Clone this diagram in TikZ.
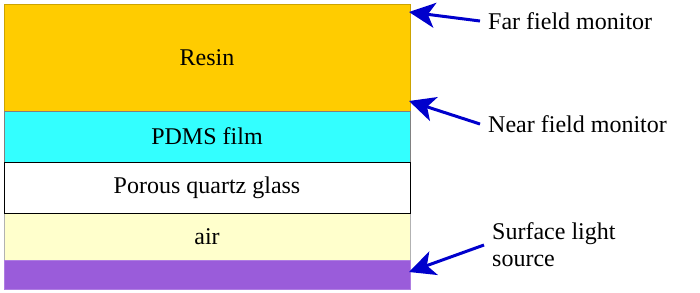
\documentclass[tikz,border=0pt]{standalone}
\usepackage{fontspec}
\setmainfont{Liberation Serif}
\usetikzlibrary{arrows.meta}

\definecolor{resinc}{HTML}{FFCC00}
\definecolor{pdmsc}{HTML}{33FFFF}
\definecolor{airc}{HTML}{FFFFCC}
\definecolor{sourcec}{HTML}{9A5CDA}
\definecolor{arrowc}{HTML}{0000CC}

\begin{document}
\begin{tikzpicture}[x=1pt, y=-1pt, font=\fontsize{24}{27}\selectfont,
    layer/.style={minimum width=406pt, inner sep=0pt, outer sep=0pt, line width=0.8pt},
    pointer/.style={draw=arrowc, line width=3pt, -{Stealth[length=26pt,width=25pt,inset=7pt]}},
    tag/.style={anchor=west, inner xsep=8pt, inner ysep=0pt, align=left}]
    \useasboundingbox (0,0) rectangle (700,292);

    % layers, top to bottom
    \node[layer, draw=resinc!80!black, fill=resinc, minimum height=107pt] (resin) at (207,57.5) {Resin};
    \node[layer, draw=gray, fill=pdmsc, minimum height=51pt] (pdms) at (207,136.5) {PDMS film};
    \node[layer, draw=gray!60, fill=airc, minimum height=47pt] (air) at (207,236.5) {air};
    \node[layer, draw=black, fill=white, minimum height=51pt] (quartz) at (207,187.5) {Porous quartz glass};
    \node[layer, draw=sourcec!80!white, fill=sourcec, minimum height=29pt] (source) at (207,274.5) {};

    % monitors and source
    \coordinate (fartip) at (409,12);
    \coordinate (neartip) at (409,101);
    \coordinate (srctip) at (409,272);

    \node[tag] (farlbl) at (480,21) {Far field monitor};
    \node[tag] (nearlbl) at (480,124) {Near field monitor};
    \node[tag] (srclbl) at (484,245) {Surface light\\source};

    \draw[pointer] (farlbl.west) -- (fartip);
    \draw[pointer] (nearlbl.west) -- (neartip);
    \draw[pointer] (srclbl.west) -- (srctip);
\end{tikzpicture}
\end{document}
